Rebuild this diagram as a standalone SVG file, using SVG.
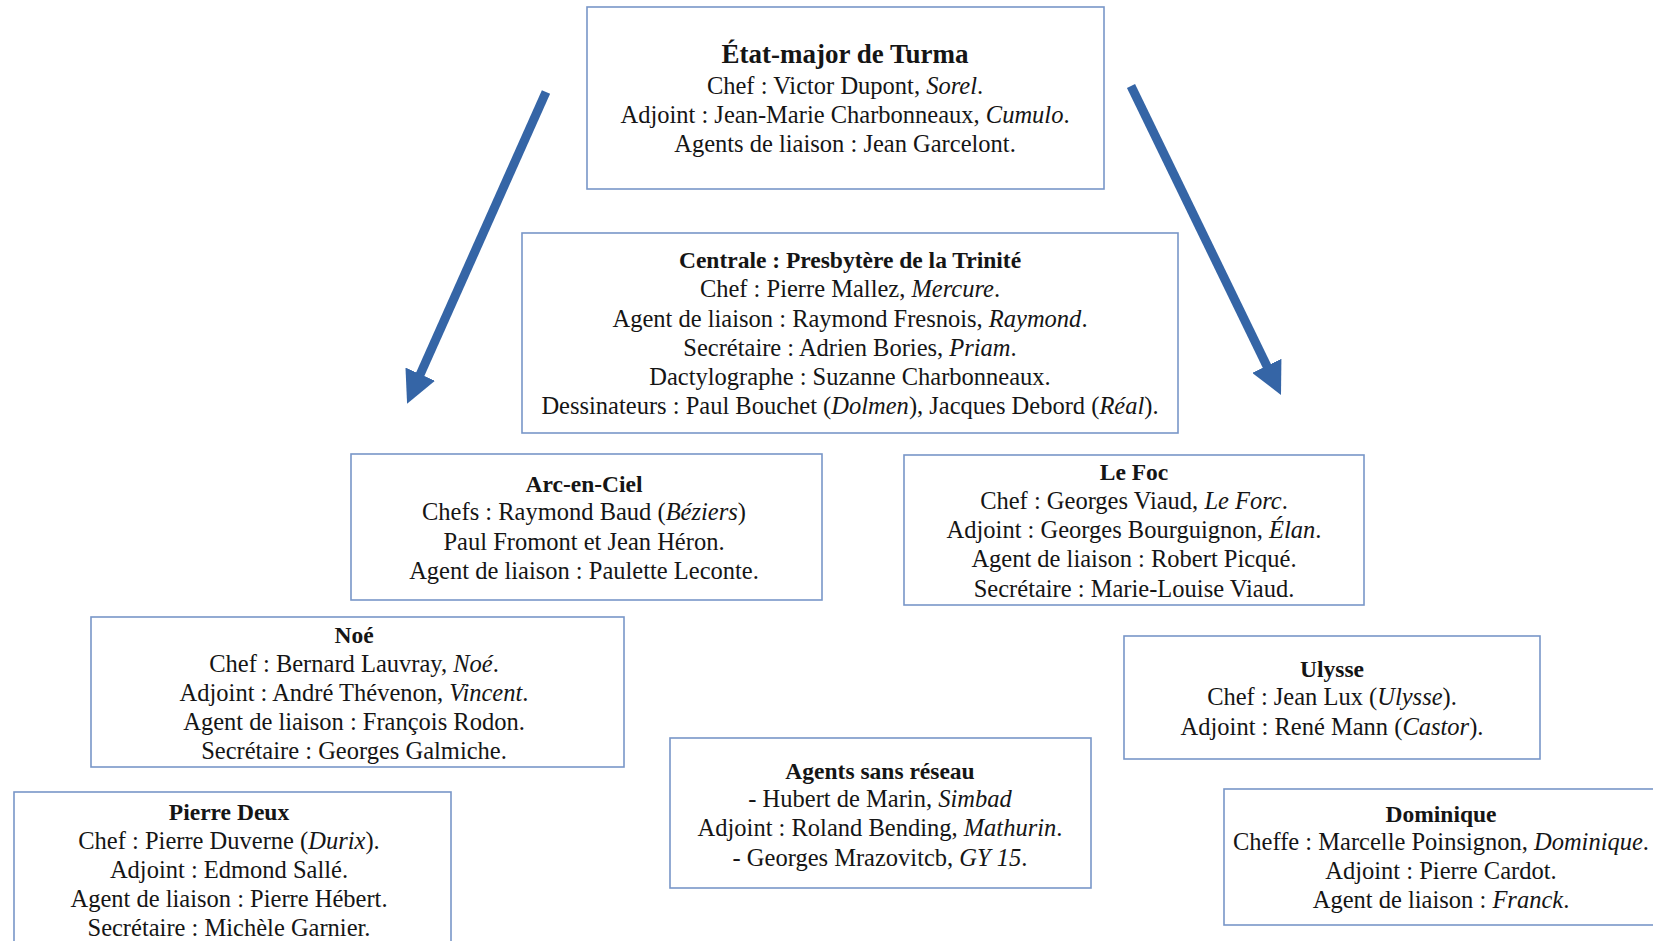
<svg xmlns="http://www.w3.org/2000/svg" width="1653" height="941" viewBox="0 0 1653 941">
<style>
.box{fill:#fff;stroke:#7896c8;stroke-width:1.6}
text{font-family:"Liberation Serif","DejaVu Serif",serif;fill:#151515;text-anchor:middle}
.t{font-weight:bold;font-size:23.5px}
.tt{font-weight:bold;font-size:27px}
.b{font-size:24.5px}
.i{font-style:italic}
.arr{stroke:#3565a6;stroke-width:9;fill:none}
</style>
<defs>
<marker id="ah" viewBox="0 0 10 10" refX="4" refY="5" markerWidth="3.6" markerHeight="3.6" orient="auto" markerUnits="strokeWidth">
<path d="M0,0 L10,5 L0,10 z" fill="#3565a6"/>
</marker>
</defs>
<rect width="1653" height="941" fill="#fff"/>
<g id="connectors">
<line class="arr" x1="546" y1="92" x2="415" y2="386" marker-end="url(#ah)"/>
<line class="arr" x1="1131" y1="86" x2="1272.5" y2="377.5" marker-end="url(#ah)"/>
</g>
<g id="etat-major">
<rect class="box" x="587" y="7" width="517" height="182"/>
<text class="tt" x="845" y="63">État-major de Turma</text>
<text class="b" x="845" y="94">Chef : Victor Dupont, <tspan class="i">Sorel</tspan>.</text>
<text class="b" x="845" y="123">Adjoint : Jean-Marie Charbonneaux, <tspan class="i">Cumulo</tspan>.</text>
<text class="b" x="845" y="152">Agents de liaison : Jean Garcelont.</text>
</g>
<g id="centrale">
<rect class="box" x="522" y="233" width="656" height="200"/>
<text class="t" x="850" y="268">Centrale : Presbytère de la Trinité</text>
<text class="b" x="850" y="297">Chef : Pierre Mallez, <tspan class="i">Mercure</tspan>.</text>
<text class="b" x="850" y="327">Agent de liaison : Raymond Fresnois, <tspan class="i">Raymond</tspan>.</text>
<text class="b" x="850" y="356">Secrétaire : Adrien Bories, <tspan class="i">Priam</tspan>.</text>
<text class="b" x="850" y="385">Dactylographe : Suzanne Charbonneaux.</text>
<text class="b" x="850" y="414">Dessinateurs : Paul Bouchet (<tspan class="i">Dolmen</tspan>), Jacques Debord (<tspan class="i">Réal</tspan>).</text>
</g>
<g id="arc-en-ciel">
<rect class="box" x="351" y="454" width="471" height="146"/>
<text class="t" x="584" y="492">Arc-en-Ciel</text>
<text class="b" x="584" y="520">Chefs : Raymond Baud (<tspan class="i">Béziers</tspan>)</text>
<text class="b" x="584" y="550">Paul Fromont et Jean Héron.</text>
<text class="b" x="584" y="579">Agent de liaison : Paulette Leconte.</text>
</g>
<g id="le-foc">
<rect class="box" x="904" y="455" width="460" height="150"/>
<text class="t" x="1134" y="480">Le Foc</text>
<text class="b" x="1134" y="509">Chef : Georges Viaud, <tspan class="i">Le Forc</tspan>.</text>
<text class="b" x="1134" y="538">Adjoint : Georges Bourguignon, <tspan class="i">Élan</tspan>.</text>
<text class="b" x="1134" y="567">Agent de liaison : Robert Picqué.</text>
<text class="b" x="1134" y="597">Secrétaire : Marie-Louise Viaud.</text>
</g>
<g id="noe">
<rect class="box" x="91" y="617" width="533" height="150"/>
<text class="t" x="354" y="643">Noé</text>
<text class="b" x="354" y="672">Chef : Bernard Lauvray, <tspan class="i">Noé</tspan>.</text>
<text class="b" x="354" y="701">Adjoint : André Thévenon, <tspan class="i">Vincent</tspan>.</text>
<text class="b" x="354" y="730">Agent de liaison : François Rodon.</text>
<text class="b" x="354" y="759">Secrétaire : Georges Galmiche.</text>
</g>
<g id="pierre-deux">
<rect class="box" x="14" y="792" width="437" height="170"/>
<text class="t" x="229" y="820">Pierre Deux</text>
<text class="b" x="229" y="849">Chef : Pierre Duverne (<tspan class="i">Durix</tspan>).</text>
<text class="b" x="229" y="878">Adjoint : Edmond Sallé.</text>
<text class="b" x="229" y="907">Agent de liaison : Pierre Hébert.</text>
<text class="b" x="229" y="936">Secrétaire : Michèle Garnier.</text>
</g>
<g id="agents-sans-reseau">
<rect class="box" x="670" y="738" width="421" height="150"/>
<text class="t" x="880" y="779">Agents sans réseau</text>
<text class="b" x="880" y="807">- Hubert de Marin, <tspan class="i">Simbad</tspan></text>
<text class="b" x="880" y="836">Adjoint : Roland Bending, <tspan class="i">Mathurin</tspan>.</text>
<text class="b" x="880" y="866">- Georges Mrazovitcb, <tspan class="i">GY 15</tspan>.</text>
</g>
<g id="ulysse">
<rect class="box" x="1124" y="636" width="416" height="123"/>
<text class="t" x="1332" y="677">Ulysse</text>
<text class="b" x="1332" y="705">Chef : Jean Lux (<tspan class="i">Ulysse</tspan>).</text>
<text class="b" x="1332" y="735">Adjoint : René Mann (<tspan class="i">Castor</tspan>).</text>
</g>
<g id="dominique">
<rect class="box" x="1224" y="789" width="440" height="136"/>
<text class="t" x="1441" y="822">Dominique</text>
<text class="b" x="1441" y="850">Cheffe : Marcelle Poinsignon, <tspan class="i">Dominique</tspan>.</text>
<text class="b" x="1441" y="879">Adjoint : Pierre Cardot.</text>
<text class="b" x="1441" y="908">Agent de liaison : <tspan class="i">Franck</tspan>.</text>
</g>
</svg>
